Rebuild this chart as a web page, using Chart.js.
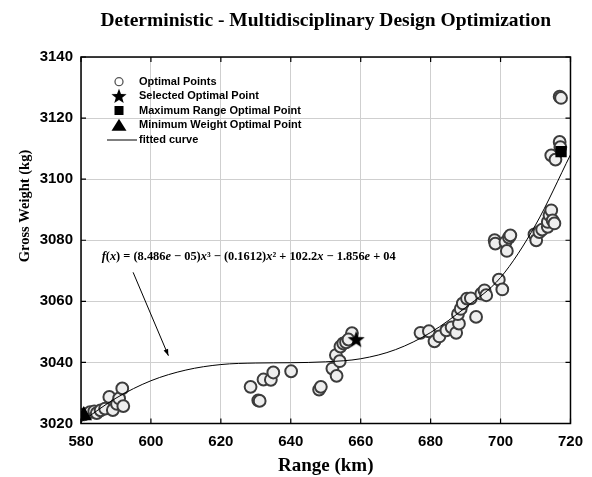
<!DOCTYPE html>
<html>
<head>
<meta charset="utf-8">
<script src="https://cdn.jsdelivr.net/npm/chart.js@4/dist/chart.umd.min.js"></script>
<style>
html,body{margin:0;padding:0;background:#fff;}
#wrap{position:relative;width:592px;height:477px;}
</style>
</head>
<body>
<div id="wrap"><canvas id="c"></canvas></div>
<script>
// ---- data ----
const optRange = [
  580.9, 582.6, 583.8, 584.5, 585.6, 586.9, 588.1, 589.1, 590.3, 590.9, 591.8, 592.1,
  628.5, 630.7, 631.1, 632.2, 634.3, 635.0, 640.1, 648.1, 648.6, 651.9, 653.1, 652.9,
  654.0, 654.2, 655.0, 655.8, 657.5, 656.5,
  677.1, 679.5, 681.1, 682.5, 684.5, 686.0, 687.3, 688.1, 687.8, 688.6, 689.2, 690.4,
  691.5, 693.0, 694.5, 695.4, 695.9, 699.5, 700.5, 698.3, 698.5, 701.4, 701.8, 702.4,
  702.8, 709.7, 710.2, 711.1, 711.9, 713.5, 713.5, 714.0, 714.5, 714.9, 715.4, 714.5,
  715.7, 716.9, 717.1, 716.9, 717.3
];
const optWeight = [
  3023.0, 3023.7, 3024.0, 3023.4, 3024.3, 3024.9, 3028.7, 3024.4, 3026.4, 3028.2, 3031.5, 3025.7,
  3032.0, 3027.6, 3027.4, 3034.4, 3034.3, 3036.7, 3037.1, 3031.1, 3032.0, 3038.0, 3035.6, 3042.4,
  3040.4, 3045.2, 3046.2, 3046.6, 3049.6, 3047.5,
  3049.7, 3050.2, 3046.9, 3048.5, 3050.5, 3051.5, 3049.7, 3052.7, 3055.8, 3057.5, 3059.3, 3060.9,
  3061.0, 3054.9, 3062.5, 3063.6, 3062.0, 3067.1, 3063.9, 3080.0, 3078.9, 3079.4, 3076.5, 3080.9,
  3081.6, 3081.9, 3080.0, 3082.7, 3083.5, 3084.4, 3086.0, 3088.2, 3089.8, 3086.5, 3085.5, 3107.8,
  3106.4, 3112.2, 3110.5, 3127.0, 3126.6
];
const selectedPoint = [658.7, 3047.6];
const maxRangePoint = [717.3, 3109.0];
const minWeightPoint = [580.8, 3022.6];
const curveRange  = [580, 590, 600, 610, 620, 630, 640, 650, 660, 670, 680, 690, 700, 710, 720];
const curveWeight = [3020.5, 3028.3, 3034.0, 3037.5, 3039.3, 3039.8, 3039.9, 3040.2, 3041.2, 3044.2, 3049.8, 3058.0, 3067.8, 3085.0, 3108.0];
const xTicks = [580, 600, 620, 640, 660, 680, 700, 720];
const yTicks = [3020, 3040, 3060, 3080, 3100, 3120, 3140];
const legendLabels = ['Optimal Points', 'Selected Optimal Point', 'Maximum Range Optimal Point', 'Minimum Weight Optimal Point', 'fitted curve'];
const titleText = 'Deterministic - Multidisciplinary Design Optimization';
const xTitle = 'Range (km)';
const yTitle = 'Gross Weight (kg)';
// equation pieces: [text, italic]
const equation = [['f',1],['(',0],['x',1],[') = (8.486',0],['e',1],[' − 05)',0],['x',1],['³ − (0.1612)',0],['x',1],['² + 102.2',0],['x',1],[' − 1.856',0],['e',1],[' + 04',0]];
const eqAnchor = [585.9, 3074.5];
const arrowFrom = [594.9, 3069.5];
const arrowTo = [605.0, 3042.2];

// ---- helpers ----
function makeStar(r){
  const s = Math.ceil(r*2+2);
  const c = document.createElement('canvas'); c.width = s; c.height = s;
  const g = c.getContext('2d');
  g.beginPath();
  for(let i=0;i<10;i++){
    const rr = i%2 ? r*0.42 : r;
    const a = -Math.PI/2 + i*Math.PI/5;
    g.lineTo(s/2 + rr*Math.cos(a), s/2 + rr*Math.sin(a) + r*0.08);
  }
  g.closePath(); g.fillStyle='#000'; g.fill();
  return c;
}
const starImg = makeStar(9);
const starLegend = makeStar(8);

const pts = (xs, ys) => xs.map((v,i)=>({x:v, y:ys[i]}));

const SERIF = "'Liberation Serif', 'DejaVu Serif', serif";
const SANS = "'Liberation Sans', Arial, sans-serif";

const deco = {
  id: 'deco',
  afterDraw(chart){
    const {ctx, chartArea:a, scales:{x, y}} = chart;
    ctx.save();
    // frame
    ctx.strokeStyle = '#000'; ctx.lineWidth = 1.5;
    ctx.strokeRect(a.left, a.top, a.right-a.left, a.bottom-a.top);
    ctx.lineWidth = 1.2;
    ctx.beginPath();
    xTicks.forEach(v=>{ const p = x.getPixelForValue(v);
      ctx.moveTo(p, a.bottom); ctx.lineTo(p, a.bottom-5);
      ctx.moveTo(p, a.top); ctx.lineTo(p, a.top+5); });
    yTicks.forEach(v=>{ const p = y.getPixelForValue(v);
      ctx.moveTo(a.left, p); ctx.lineTo(a.left+5, p);
      ctx.moveTo(a.right, p); ctx.lineTo(a.right-5, p); });
    ctx.stroke();

    // title
    ctx.fillStyle = '#000';
    ctx.textAlign = 'center'; ctx.textBaseline = 'middle';
    ctx.font = 'bold 19.5px ' + SERIF;
    ctx.fillText(titleText, (a.left+a.right)/2, 21);
    // x title
    ctx.font = 'bold 19px ' + SERIF;
    ctx.fillText(xTitle, (a.left+a.right)/2, 466);
    // y title
    ctx.save();
    ctx.translate(25, 206); ctx.rotate(-Math.PI/2);
    ctx.font = 'bold 14.5px ' + SERIF;
    ctx.fillText(yTitle, 0, 0);
    ctx.restore();

    // legend
    const lx = 119, tx = 139, rows = [81.7, 95.9, 110.5, 125.2, 140];
    ctx.font = 'bold 11px ' + SANS;
    ctx.textAlign = 'left';
    legendLabels.forEach((t,i)=>ctx.fillText(t, tx, rows[i]));
    // circle
    ctx.beginPath(); ctx.arc(lx, rows[0], 4, 0, Math.PI*2);
    ctx.fillStyle = '#fff'; ctx.fill(); ctx.strokeStyle = '#555'; ctx.lineWidth = 1.3; ctx.stroke();
    // star
    ctx.drawImage(starLegend, lx - starLegend.width/2, rows[1] - starLegend.height/2);
    // square
    ctx.fillStyle = '#000'; ctx.fillRect(lx-4.5, rows[2]-4.5, 9, 9);
    // triangle
    ctx.beginPath(); ctx.moveTo(lx, rows[3]-6.5); ctx.lineTo(lx+7.5, rows[3]+5.5); ctx.lineTo(lx-7.5, rows[3]+5.5); ctx.closePath(); ctx.fill();
    // line
    ctx.strokeStyle = '#000'; ctx.lineWidth = 1;
    ctx.beginPath(); ctx.moveTo(107, rows[4]); ctx.lineTo(137, rows[4]); ctx.stroke();

    // equation
    let ex = x.getPixelForValue(eqAnchor[0]);
    const ey = y.getPixelForValue(eqAnchor[1]);
    ctx.fillStyle = '#000'; ctx.textBaseline = 'middle'; ctx.textAlign = 'left';
    equation.forEach(([t, it])=>{
      ctx.font = (it ? 'italic ' : '') + 'bold 12.4px ' + SERIF;
      ctx.fillText(t, ex, ey);
      ex += ctx.measureText(t).width;
    });

    // arrow
    const x0 = x.getPixelForValue(arrowFrom[0]), y0 = y.getPixelForValue(arrowFrom[1]);
    const x1 = x.getPixelForValue(arrowTo[0]), y1 = y.getPixelForValue(arrowTo[1]);
    ctx.strokeStyle = '#000'; ctx.lineWidth = 1;
    ctx.beginPath(); ctx.moveTo(x0, y0); ctx.lineTo(x1, y1); ctx.stroke();
    const ang = Math.atan2(y1-y0, x1-x0), L = 7, W = 0.35;
    ctx.beginPath(); ctx.moveTo(x1, y1);
    ctx.lineTo(x1 - L*Math.cos(ang-W), y1 - L*Math.sin(ang-W));
    ctx.lineTo(x1 - L*Math.cos(ang+W), y1 - L*Math.sin(ang+W));
    ctx.closePath(); ctx.fill();
    ctx.restore();
  }
};

new Chart(document.getElementById('c'), {
  type: 'scatter',
  data: {
    datasets: [
      { label: legendLabels[1], data: [{x:selectedPoint[0], y:selectedPoint[1]}], pointStyle: starImg, order: 0 },
      { label: legendLabels[2], data: [{x:maxRangePoint[0], y:maxRangePoint[1]}], pointStyle: 'rect', pointRadius: 8, backgroundColor:'#000', borderColor:'#000', borderWidth:0, order: 0 },
      { label: legendLabels[3], data: [{x:minWeightPoint[0], y:minWeightPoint[1]}], pointStyle: 'triangle', pointRadius: 9.5, backgroundColor:'#000', borderColor:'#000', borderWidth:0, order: 0 },
      { label: legendLabels[4], data: pts(curveRange, curveWeight), showLine: true, tension: 0.4, cubicInterpolationMode: 'monotone', borderColor:'#000', borderWidth: 1, pointRadius: 0, order: 1 },
      { label: legendLabels[0], data: pts(optRange, optWeight), pointStyle: 'circle', pointRadius: 5.9, backgroundColor:'#eeeeee', borderColor:'#3c3c3c', borderWidth: 2, order: 2 }
    ]
  },
  options: {
    responsive: true, maintainAspectRatio: false, animation: false,
    layout: { padding: { top: 57, right: 21, left: 0, bottom: 0 } },
    plugins: { legend: { display: false }, title: { display: false }, tooltip: { enabled: false } },
    scales: {
      x: {
        type: 'linear', min: 580, max: 720,
        afterBuildTicks: s => { s.ticks = xTicks.map(v=>({value:v})); },
        afterFit: s => { s.height = 477 - 423.5; },
        grid: { color: '#cfcfcf', lineWidth: 1, drawTicks: false },
        border: { display: false },
        ticks: { padding: 9, color: '#000', font: { family: SANS, size: 15, weight: 'bold' }, callback: v => String(v) }
      },
      y: {
        type: 'linear', min: 3020, max: 3140,
        afterBuildTicks: s => { s.ticks = yTicks.map(v=>({value:v})); },
        afterFit: s => { s.width = 81; },
        grid: { color: '#cfcfcf', lineWidth: 1, drawTicks: false },
        border: { display: false },
        ticks: { padding: 8, color: '#000', font: { family: SANS, size: 15, weight: 'bold' }, callback: v => String(v) }
      }
    }
  },
  plugins: [deco]
});
</script>
</body>
</html>
